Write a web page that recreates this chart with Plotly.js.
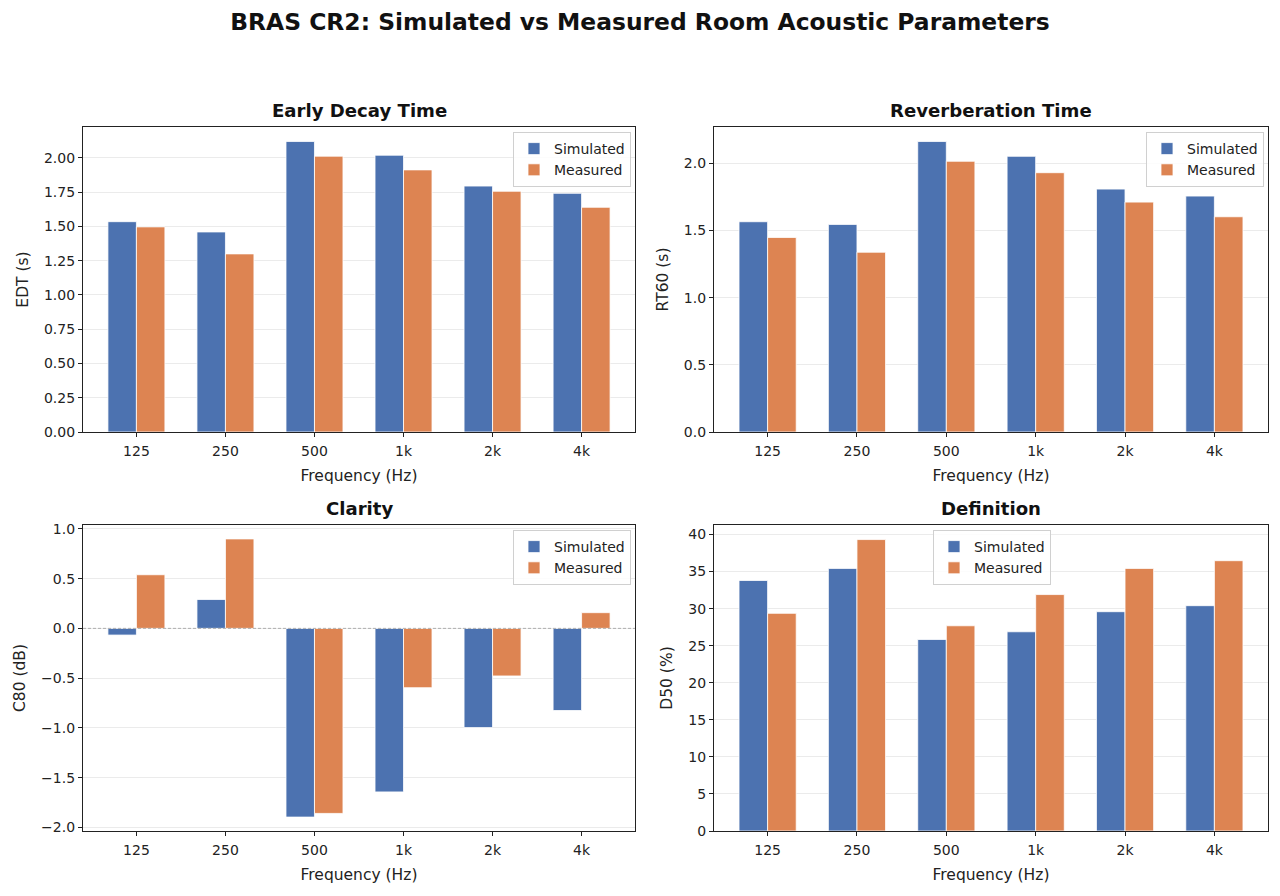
<!DOCTYPE html>
<html>
<head>
<meta charset="utf-8">
<script src="https://cdn.plot.ly/plotly-3.0.1.min.js"></script>
<style>html,body{margin:0;padding:0;background:#fff;}#chart{width:1280px;height:896px;}</style>
</head>
<body>
<div id="chart"></div>
<script>
const freqs = ['125', '250', '500', '1k', '2k', '4k'];
const seriesNames = ['Simulated', 'Measured'];
const edtSim = [1.535, 1.46, 2.12, 2.02, 1.795, 1.742];
const edtMeas = [1.497, 1.30, 2.013, 1.913, 1.757, 1.64];
const rtSim = [1.565, 1.545, 2.162, 2.052, 1.808, 1.756];
const rtMeas = [1.448, 1.338, 2.015, 1.930, 1.711, 1.602];
const c80Sim = [-0.067, 0.29, -1.896, -1.643, -0.997, -0.825];
const c80Meas = [0.539, 0.899, -1.859, -0.596, -0.478, 0.158];
const d50Sim = [33.8, 35.43, 25.84, 26.88, 29.59, 30.4];
const d50Meas = [29.37, 39.32, 27.69, 31.9, 35.43, 36.47];
const panelTitles = ['Early Decay Time', 'Reverberation Time', 'Clarity', 'Definition'];
const yTitles = ['EDT (s)', 'RT60 (s)', 'C80 (dB)', 'D50 (%)'];
const xTitle = 'Frequency (Hz)';
const mainTitle = 'BRAS CR2: Simulated vs Measured Room Acoustic Parameters';

const COLORS = ['#4C72B0', '#DD8452'];
const FONT = 'DejaVu Sans, Liberation Sans, sans-serif';
const W = 1280, H = 896;

const panels = [
  {sim: edtSim, meas: edtMeas, fmt: '.2f', dtick: 0.25, px: [83, 635], py: [127, 432]},
  {sim: rtSim, meas: rtMeas, fmt: '.1f', dtick: 0.5, px: [714, 1268], py: [127, 432]},
  {sim: c80Sim, meas: c80Meas, fmt: '.1f', dtick: 0.5, px: [83, 635], py: [525, 831]},
  {sim: d50Sim, meas: d50Meas, fmt: 'd', dtick: 5, px: [714, 1268], py: [525, 831]}
];

function autoRange(a, b) {
  const all = a.concat(b);
  let lo = Math.min(0, ...all), hi = Math.max(0, ...all);
  const span = hi - lo;
  if (lo < 0) lo -= 0.05 * span;
  hi += 0.05 * span;
  return [lo, hi];
}

const data = [];
const layout = {
  width: W, height: H,
  margin: {l: 0, r: 0, t: 0, b: 0},
  paper_bgcolor: '#ffffff',
  plot_bgcolor: '#ffffff',
  font: {family: FONT, size: 14, color: '#222'},
  barmode: 'group',
  bargap: 0.36,
  bargroupgap: 0,
  title: {
    text: '<b>' + mainTitle + '</b>',
    font: {family: FONT, size: 23.4, color: '#111'},
    x: 0.5, xanchor: 'center', xref: 'paper',
    y: 1 - 22 / H, yanchor: 'middle', yref: 'paper'
  },
  annotations: [],
  shapes: []
};

panels.forEach((p, i) => {
  const n = i + 1;
  const xa = 'x' + (n === 1 ? '' : n);
  const ya = 'y' + (n === 1 ? '' : n);
  const lg = 'legend' + (n === 1 ? '' : n);
  [p.sim, p.meas].forEach((vals, k) => {
    data.push({
      type: 'bar', x: freqs, y: vals, name: seriesNames[k],
      xaxis: xa, yaxis: ya, legend: lg,
      marker: {color: COLORS[k], line: {color: '#ffffff', width: 0.8}},
      hoverinfo: 'x+y+name'
    });
  });
  const xd = [p.px[0] / W, p.px[1] / W];
  const yd = [1 - p.py[1] / H, 1 - p.py[0] / H];
  const axisCommon = {
    showline: true, mirror: true, linecolor: '#222', linewidth: 1.3,
    ticks: 'outside', ticklen: 4, tickwidth: 1, tickcolor: '#222',
    zeroline: false, automargin: false,
    tickfont: {family: FONT, size: 14, color: '#222'}
  };
  layout['xaxis' + (n === 1 ? '' : n)] = Object.assign({}, axisCommon, {
    domain: xd, anchor: ya, type: 'category',
    range: [-0.6, freqs.length - 1 + 0.6],
    showgrid: false, ticklabelstandoff: 2,
    title: {text: xTitle, font: {family: FONT, size: 15.5, color: '#222'}, standoff: 12}
  });
  layout['yaxis' + (n === 1 ? '' : n)] = Object.assign({}, axisCommon, {
    domain: yd, anchor: xa,
    range: autoRange(p.sim, p.meas),
    tickformat: p.fmt, dtick: p.dtick, tick0: 0,
    showgrid: true, gridcolor: '#ebebeb', gridwidth: 0.8,
    title: {text: yTitles[i], font: {family: FONT, size: 15.5, color: '#222'}, standoff: 11}
  });
  layout.annotations.push({
    text: '<b>' + panelTitles[i] + '</b>',
    xref: 'paper', yref: 'paper',
    x: (xd[0] + xd[1]) / 2, xanchor: 'center',
    y: yd[1], yanchor: 'bottom', yshift: 4,
    showarrow: false,
    font: {family: FONT, size: 18.1, color: '#111'}
  });
  const legendPos = (n === 4)
    ? {x: 992 / W, xanchor: 'center'}
    : {x: (p.px[1] - 4) / W, xanchor: 'right'};
  layout[lg] = Object.assign(legendPos, {
    xref: 'paper', yref: 'paper',
    y: yd[1] - 5 / H, yanchor: 'top',
    bgcolor: 'rgba(255,255,255,0.85)', bordercolor: '#d0d0d0', borderwidth: 1,
    font: {family: FONT, size: 14, color: '#222'},
    itemwidth: 30
  });
});

// dashed zero reference line on the Clarity panel
layout.shapes.push({
  type: 'line', xref: 'x3 domain', yref: 'y3',
  x0: 0, x1: 1, y0: 0, y1: 0,
  line: {color: '#a8a8a8', width: 0.9, dash: '3px,2px'}, layer: 'above'
});

Plotly.newPlot('chart', data, layout, {displayModeBar: false, responsive: false});
</script>
</body>
</html>
